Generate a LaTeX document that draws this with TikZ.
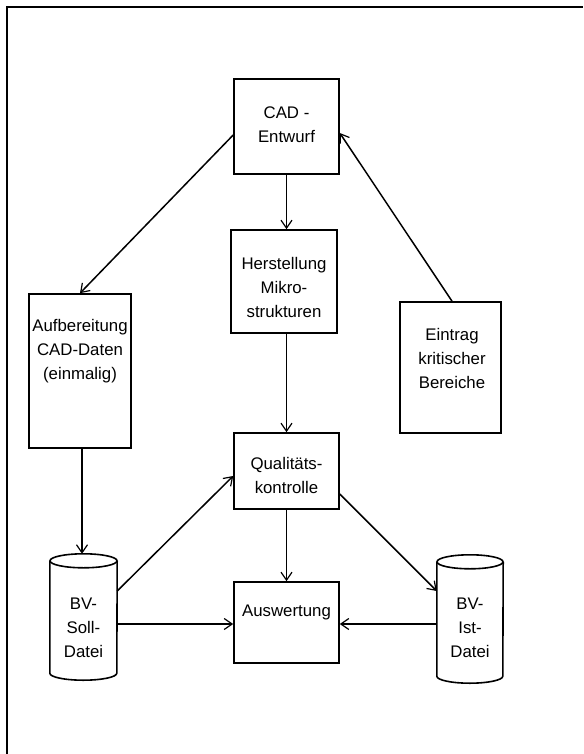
\documentclass[tikz,border=0pt]{standalone}
\usepackage{fontspec}
\setmainfont{Liberation Sans}
\usetikzlibrary{arrows.meta,calc}
\begin{document}
\begin{tikzpicture}[x=1pt,y=-1pt,
  every node/.style={font=\fontsize{16.8}{24}\selectfont},
  stepbox/.style={draw,line width=1.6pt,inner sep=0pt,anchor=center},
  label/.style={align=center,inner sep=0pt},
  store/.style={inner sep=0pt,anchor=center},
  link/.style={line width=1.5pt,-{Straight Barb[length=8pt,width=11pt,line width=1.2pt]}},
  outline/.style={line width=1.6pt}]
\useasboundingbox (0,0) rectangle (583,754);
% page frame
\draw[line width=1.4pt] (7,754) -- (7,7) -- (583,7);

% process boxes
\node[stepbox,minimum width=105pt,minimum height=95pt]  (cad)  at (286.5,126.5) {};
\node[stepbox,minimum width=106pt,minimum height=103pt] (her)  at (284,281.5) {};
\node[stepbox,minimum width=102pt,minimum height=154pt] (auf)  at (80,371) {};
\node[stepbox,minimum width=101pt,minimum height=131pt] (ein)  at (450.5,367.5) {};
\node[stepbox,minimum width=105pt,minimum height=76pt]  (qual) at (286.5,471) {};
\node[stepbox,minimum width=105pt,minimum height=81pt]  (ausw) at (286.5,622.5) {};

% data stores (cylinders)
\node[store,minimum width=67pt,minimum height=126pt] (soll) at (83.5,617) {};
\node[store,minimum width=66pt,minimum height=128pt] (ist)  at (470,619) {};
\draw[outline] ($(soll.north west)+(0,7)$) -- ($(soll.south west)+(0,-7)$)
  arc[start angle=180,end angle=0,x radius=33.5,y radius=7]
  -- ($(soll.north east)+(0,7)$);
\draw[outline] ($(soll.north)+(0,7)$) ellipse[x radius=33.5,y radius=7];
\draw[outline] ($(ist.north west)+(0,7)$) -- ($(ist.south west)+(0,-7)$)
  arc[start angle=180,end angle=0,x radius=33,y radius=7]
  -- ($(ist.north east)+(0,7)$);
\draw[outline] ($(ist.north)+(0,7)$) ellipse[x radius=33,y radius=7];

% texts
\node[label] (tcad)  at (286.5,125) {CAD -\\Entwurf};
\node[label] (ther)  at (284,287)   {Herstellung\\Mikro-\\strukturen};
\node[label] (tauf)  at (80,351)    {Aufbereitung\\CAD-Daten\\(einmalig)};
\node[label] (tein)  at (452,358)   {Eintrag\\kritischer\\Bereiche};
\node[label] (tqual) at (286.5,475) {Qualitäts-\\kontrolle};
\node[label] (tausw) at (286.5,612) {Auswertung};
\node[label] (tsoll) at (83.5,628)  {BV-\\Soll-\\Datei};
\node[label] (tist)  at (470,628)   {BV-\\Ist-\\Datei};

% connectors
\draw[link] ([yshift=-8.5pt]cad.west) -- (auf.north);
\draw[link] (cad.south) -- (cad.south |- her.north);
\draw[link] ([xshift=1.5pt]ein.north) -- ([yshift=-6.5pt]cad.east);
\draw[link] (her.south -| cad.south) -- (qual.north);
\draw[link] ([xshift=2pt]auf.south) -- ([xshift=2pt]auf.south |- soll.north);
\draw[link] ([yshift=26pt]soll.east) -- ([yshift=-5pt]qual.west);
\draw[link] ([yshift=-7pt]soll.east) -- ([yshift=-7pt]soll.east -| ausw.west);
\draw[link] (qual.south) -- (ausw.north);
\draw[link] ([yshift=-23pt]qual.east) -- ([yshift=28pt]ist.west);
\draw[link] ([yshift=-5pt]ist.west) -- ([yshift=-5pt]ist.west -| ausw.east);
\end{tikzpicture}
\end{document}
